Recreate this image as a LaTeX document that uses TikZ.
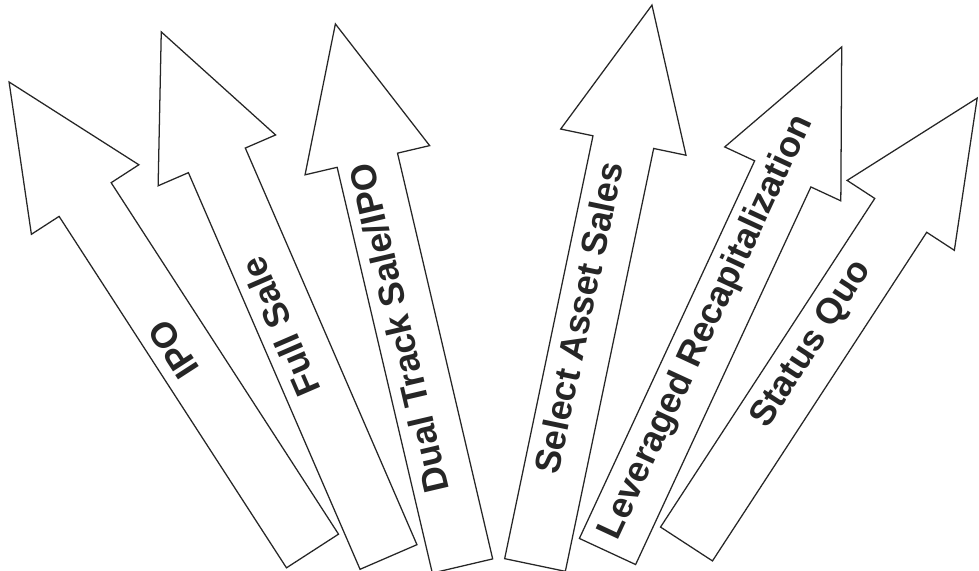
\documentclass[tikz,border=0pt]{standalone}
\usepackage{fontspec}
\setmainfont{Liberation Sans}
\tikzset{
    fan diagram/.style = {x=0.025cm, y=0.025cm},
    arrow body/.style  = {draw=black!85, line width=0.9pt, fill=white,
                          line join=miter},
    arrow label/.style = {font=\fontsize{25.5}{30}\selectfont\bfseries,
                          text=black!85, inner sep=0pt,
                          text height=0.72em, text depth=0pt}
}
\begin{document}
\begin{tikzpicture}[fan diagram]
\useasboundingbox (0,0) rectangle (979,571);

% Fan of option arrows: name / tail centre / angle / length / label offset / text
\foreach \n/\x/\y/\a/\l/\p/\t in {
    ipo/312.5/20/122.9/558.6/245/IPO,
    fullsale/388.5/14/113.4/572.2/254/Full Sale,
    dualtrack/462.5/5/103.2/556.8/246/{Dual Track Sale/IPO},
    assetsales/535/6/78.2/572/251/Select Asset Sales,
    recap/607.5/19.5/65.1/556.3/245/Leveraged Recapitalization,
    statusquo/686.5/27/56.9/532.3/236/Status Quo}
{
    \begin{scope}[shift={(\x,\y)}, rotate=\a]
        \draw[arrow body] (0,-31) -- ({\l-140},-31) -- ({\l-140},-64)
            -- (\l,0) -- ({\l-140},64) -- ({\l-140},31) -- (0,31) -- cycle;
        \node[arrow label, rotate=\a] (\n) at (\p,0) {\t};
    \end{scope}
}

\end{tikzpicture}
\end{document}
